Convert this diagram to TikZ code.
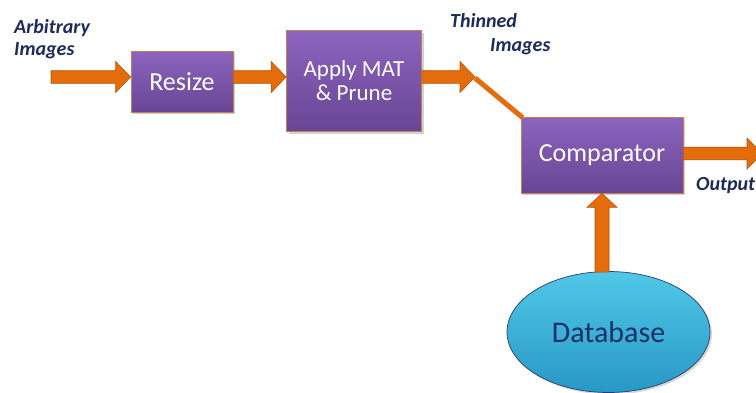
\documentclass[tikz,border=0pt]{standalone}
\usepackage{fontspec}
\setmainfont{Carlito}
\usetikzlibrary{calc,shadows,shapes.geometric}

\definecolor{arrowfill}{RGB}{228,108,10}
\definecolor{arrowedge}{RGB}{180,85,15}
\definecolor{boxtop}{RGB}{140,100,190}
\definecolor{boxbot}{RGB}{104,70,148}
\definecolor{boxedge}{RGB}{196,128,80}
\definecolor{dbtop}{RGB}{80,200,232}
\definecolor{dbbot}{RGB}{40,152,196}
\definecolor{dbedge}{RGB}{40,60,110}
\definecolor{navy}{RGB}{28,42,92}
\definecolor{dbtext}{RGB}{24,48,104}

\tikzset{
  procbox/.style={rectangle, draw=boxedge, line width=0.7pt,
    top color=boxtop, bottom color=boxbot, text=white,
    font=\fontsize{26}{24}\selectfont, align=center, inner sep=0pt,
    drop shadow={opacity=0.35, shadow xshift=2pt, shadow yshift=-2pt}},
  flowlabel/.style={font=\fontsize{20}{22}\selectfont\bfseries\itshape,
    text=navy, anchor=base west, inner sep=0pt},
  % horizontal block arrow between two points
  harrow/.style={draw=arrowedge, fill=arrowfill, line width=0.6pt,
    to path={let \p1=(\tikztostart), \p2=(\tikztotarget) in
      (\x1,\y1+6.3pt) -- (\x2-15pt,\y1+6.3pt) -- (\x2-15pt,\y1+15.5pt)
      -- (\x2,\y1) -- (\x2-15pt,\y1-15.5pt) -- (\x2-15pt,\y1-6.3pt)
      -- (\x1,\y1-6.3pt) -- cycle}},
  % upward block arrow between two points
  varrow/.style={draw=arrowedge, fill=arrowfill, line width=0.6pt,
    to path={let \p1=(\tikztostart), \p2=(\tikztotarget) in
      (\x1+7pt,\y1) -- (\x1+7pt,\y2-14pt) -- (\x1+15pt,\y2-14pt)
      -- (\x1,\y2) -- (\x1-15pt,\y2-14pt) -- (\x1-7pt,\y2-14pt)
      -- (\x1-7pt,\y1) -- cycle}},
  thinline/.style={draw=arrowfill, line width=5pt}
}

\begin{document}
\begin{tikzpicture}[x=1pt,y=-1pt]
  \useasboundingbox (0,0) rectangle (756,392);
  \fill[white] (0,0) rectangle (756,392);

  % processing blocks
  \node[procbox, minimum width=102pt, minimum height=61pt] (resize) at (182,81.5) {Resize};
  \node[procbox, minimum width=135pt, minimum height=101pt,
        font=\fontsize{23}{24}\selectfont] (mat) at (354,81) {Apply MAT\\\& Prune};
  \node[procbox, minimum width=162pt, minimum height=76pt] (cmp) at (602,155) {Comparator};

  % database
  \node[ellipse, draw=dbedge, line width=0.7pt, top color=dbtop, bottom color=dbbot,
        minimum width=203pt, minimum height=121pt, inner sep=0pt,
        text=dbtext, font=\fontsize{30}{30}\selectfont,
        drop shadow={opacity=0.3, shadow xshift=2pt, shadow yshift=-2pt}]
        (db) at (608.5,332) {Database};

  % free ends
  \coordinate (in0) at (51,77);
  \coordinate (thin) at (475,78);
  \coordinate (out0) at (762,153.5);

  % block arrows
  \path[harrow] (in0) to ([yshift=4.5pt]resize.west);
  \path[harrow] ([yshift=4.5pt]resize.east) to ([yshift=4pt]mat.west);
  \path[harrow] ([yshift=4pt]mat.east) to (thin);
  \draw[thinline] (thin) -- ([xshift=2pt,yshift=-1pt]cmp.north west);
  \path[harrow] ([yshift=1.5pt]cmp.east) to (out0);
  \path let \p1=(cmp.south), \p2=(db.north) in coordinate (dbtop) at (\x1,\y2-1pt);
  \path[varrow] (dbtop) to (cmp.south);

  % labels
  \node[flowlabel] (lblarb) at (14,33) {Arbitrary};
  \node[flowlabel] (lblimg) at (14,55) {Images};
  \node[flowlabel] (lblthin) at (450,27) {Thinned};
  \node[flowlabel] (lblthimg) at (490,51) {Images};
  \node[flowlabel] (lblout) at (696,190) {Output};
\end{tikzpicture}
\end{document}
